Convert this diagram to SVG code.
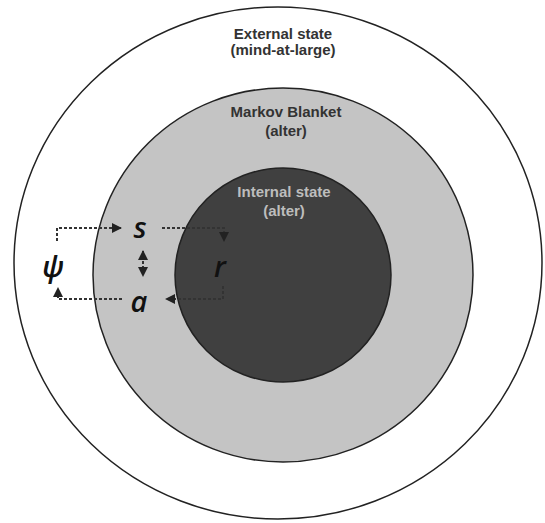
<svg xmlns="http://www.w3.org/2000/svg" width="545" height="523" viewBox="0 0 545 523">
<style>
.lbl{font-family:"Liberation Sans","Open Sans",Arial,sans-serif;font-weight:bold;font-size:15px;text-anchor:middle;fill:#333}
.inl{fill:#bdbdbd}
.var{font-family:"Open Sans","Liberation Sans",sans-serif;font-style:italic;font-weight:600;font-size:29px;text-anchor:middle;fill:#111}
.dash{fill:none;stroke:#333;stroke-width:2;stroke-dasharray:3 2}
</style>
<defs>
<marker id="ah" viewBox="0 0 10 10" refX="9" refY="5" markerWidth="5" markerHeight="5" orient="auto-start-reverse">
<path d="M0,0 L10,5 L0,10 z" fill="#222"/>
</marker>
</defs>
<rect width="545" height="523" fill="#fff"/>
<g id="external">
<ellipse cx="278" cy="263" rx="264" ry="256" fill="#fff" stroke="#222" stroke-width="1.5"/>
<text class="lbl" x="283" y="39">External state</text>
<text class="lbl" x="283" y="55">(mind-at-large)</text>
</g>
<g id="blanket">
<ellipse cx="283" cy="275" rx="190" ry="187" fill="#c4c4c4" stroke="#222" stroke-width="1.5"/>
<text class="lbl" x="286" y="117">Markov Blanket</text>
<text class="lbl" x="286" y="136">(alter)</text>
</g>
<g id="internal">
<ellipse cx="283" cy="275" rx="108" ry="107" fill="#404040" stroke="#222" stroke-width="1.5"/>
<text class="lbl inl" x="284" y="197">Internal state</text>
<text class="lbl inl" x="284" y="216">(alter)</text>
</g>
<g id="s"><text class="var" x="140" y="238">s</text></g>
<g id="r"><text class="var" x="220" y="277">r</text></g>
<g id="a"><text class="var" x="139" y="312">a</text></g>
<g id="psi"><text class="var" x="53" y="277">ψ</text></g>
<g id="connectors">
<path class="dash" d="M57,241 V228 H121" marker-end="url(#ah)"/>
<path class="dash" d="M162,228 H224 V241" marker-end="url(#ah)"/>
<path class="dash" d="M223,286 V299 H166" marker-end="url(#ah)"/>
<path class="dash" d="M122,299 H58 V288" marker-end="url(#ah)"/>
<path class="dash" d="M143,251 V276" marker-start="url(#ah)" marker-end="url(#ah)"/>
</g>
</svg>
